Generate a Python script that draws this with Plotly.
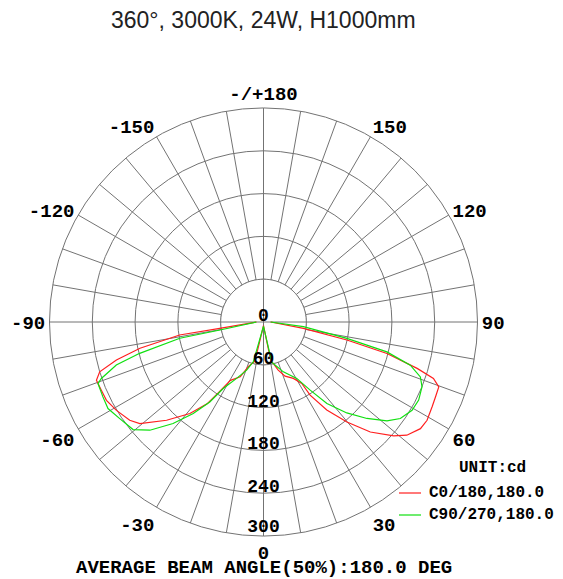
import plotly.graph_objects as go
import numpy as np

title_text = "360°, 3000K, 24W, H1000mm"
series_names = ["C0/180,180.0", "C90/270,180.0"]
series_colors = ["#ff2020", "#10e010"]
unit_text = "UNIT:cd"
footer_text = "AVERAGE BEAM ANGLE(50%):180.0 DEG"

# C0/180 plane (red): angle in degrees (0 = nadir), intensity in cd
c0_theta = [-90, -81.8, -81.2, -78, -75.5, -73.1, -70.8, -67.2, -63.5, -59, -53.7, -50.6,
            -44.6, -38.8, -34.6, -32.3, -29.5, -23, -18.8, -12.3, 0, 10.7, 13.4, 17, 21.7,
            27.9, 31.9, 32.5, 35.7, 39.85, 44.15, 48.8, 51.7, 55.8, 59, 63.3, 66.5, 69.7,
            71.65, 73.2, 75.7, 77.8, 81, 90]
c0_cd = [10, 62, 119, 177, 213, 240, 248, 246.6, 246, 240.5, 232.7, 224.4,
         193.5, 164.7, 139.4, 115, 94, 83.5, 66.3, 56, 5, 57, 60, 70.5, 81.7,
         89.5, 101.5, 121.6, 152, 182.5, 215, 242.5, 256, 266, 267.5, 264.6, 263, 262,
         251, 225, 178.6, 119.6, 56.6, 10]

# C90/270 plane (green)
c90_theta = [-90, -79.6, -79, -75.8, -73.7, -70.8, -69.6, -65, -60.9, -56.1, -50.5, -46.4,
             -41.7, -37.5, -33.9, -31.2, -25.5, -19.3, -14.4, 0, 11.7, 15, 21.7, 30.5, 34.4,
             37.9, 42.5, 47, 51.3, 54.8, 59.3, 63.3, 67.8, 70.7, 73.6, 76.4, 78.9, 83.3, 90]
c90_cd = [10, 62, 119.5, 179, 215, 240.7, 247.6, 248.4, 249.5, 242.8, 237, 220,
          190.6, 161.8, 135, 109, 87.6, 71.5, 57.6, 6, 57, 62.5, 75.2, 91.8, 115.8,
          144.7, 172.9, 198.3, 221.8, 234.7, 242.2, 243.5, 240, 233, 214.5, 178, 119.1, 56.3, 10]

radial_ticks = [0, 60, 120, 180, 240, 300]
radial_ticktext = ["0", "60", "120", "180", "240", "300"]
angular_labels = {0: "0", 30: "30", 60: "60", 90: "90", 120: "120", 150: "150",
                  180: "-/+180", 210: "-150", 240: "-120", 270: "-90", 300: "-60", 330: "-30"}

GRID = "#737373"
MONO = "Courier New, Liberation Mono, monospace"
# page body has an 8px margin: figure is sized to fill the rest of the window
W, H = 555, 571
cx, cy, R = 255.5, 314.0, 214.0
RMAX = radial_ticks[-1]

ang_vals = list(range(0, 360, 10))
ang_text = [angular_labels.get(a, "") for a in ang_vals]

fig = go.Figure()

# inner white disk (hides spokes) with ring at first tick
disk_theta = np.linspace(0, 360, 181)
fig.add_trace(go.Scatterpolar(
    r=[radial_ticks[1]] * len(disk_theta), theta=disk_theta, mode="lines",
    fill="toself", fillcolor="white", line=dict(color=GRID, width=1),
    showlegend=False, hoverinfo="skip"))
# cross lines through the hole
fig.add_trace(go.Scatterpolar(
    r=[radial_ticks[1], 0, radial_ticks[1], None, radial_ticks[1], 0, radial_ticks[1]],
    theta=[0, 0, 180, None, 90, 90, 270], mode="lines",
    line=dict(color=GRID, width=1), showlegend=False, hoverinfo="skip"))

fig.add_trace(go.Scatterpolar(
    r=c0_cd, theta=c0_theta, mode="lines", name=series_names[0],
    line=dict(color=series_colors[0], width=1.2), showlegend=False))
fig.add_trace(go.Scatterpolar(
    r=c90_cd, theta=c90_theta, mode="lines", name=series_names[1],
    line=dict(color=series_colors[1], width=1.2), showlegend=False))

# radial tick labels along the nadir axis (kept inside the radial range)
fig.add_trace(go.Scatterpolar(
    r=[min(t + 5, RMAX) for t in radial_ticks], theta=[0] * len(radial_ticks), mode="text",
    text=radial_ticktext, textposition="top center",
    textfont=dict(family=MONO, size=18, color="black", weight="bold"),
    showlegend=False, hoverinfo="skip", cliponaxis=False))

# legend block (drawn as text + swatches)
leg_x_line0, leg_x_line1, leg_x_text = 391, 413, 419
leg_y0, leg_dy = 485, 22
annotations = [
    dict(text=title_text, x=cx / W, y=1 - 12 / H, xref="paper", yref="paper",
         showarrow=False, xanchor="center", yanchor="middle",
         font=dict(family="Liberation Sans, Arial, sans-serif", size=23, color="#222")),
    dict(text=unit_text, x=484 / W, y=1 - 460 / H, xref="paper", yref="paper",
         showarrow=False, xanchor="center", yanchor="middle",
         font=dict(family=MONO, size=16, color="black", weight="bold")),
    dict(text=footer_text, x=cx / W, y=1 - 560 / H, xref="paper", yref="paper",
         showarrow=False, xanchor="center", yanchor="middle",
         font=dict(family=MONO, size=19, color="black", weight="bold")),
]
shapes = []
for i, (name, col) in enumerate(zip(series_names, series_colors)):
    yy = 1 - (leg_y0 + i * leg_dy) / H
    annotations.append(dict(text=name, x=leg_x_text / W, y=yy, xref="paper", yref="paper",
                            showarrow=False, xanchor="left", yanchor="middle",
                            font=dict(family=MONO, size=16, color="black", weight="bold")))
    shapes.append(dict(type="line", xref="paper", yref="paper",
                       x0=leg_x_line0 / W, x1=leg_x_line1 / W, y0=yy, y1=yy,
                       line=dict(color=col, width=1.2)))

fig.update_layout(
    width=W, height=H,
    margin=dict(l=0, r=0, t=0, b=0, autoexpand=False),
    paper_bgcolor="white",
    showlegend=False,
    polar=dict(
        domain=dict(x=[(cx - R) / W, (cx + R) / W], y=[(H - cy - R) / H, (H - cy + R) / H]),
        bgcolor="white",
        radialaxis=dict(range=[0, RMAX], tickvals=radial_ticks[1:], showticklabels=False,
                        ticks="", showline=False, gridcolor=GRID, gridwidth=1),
        angularaxis=dict(rotation=-90, direction="counterclockwise",
                         tickvals=ang_vals, ticktext=ang_text, ticks="",
                         showgrid=True, gridcolor=GRID, gridwidth=1,
                         showline=True, linecolor=GRID, linewidth=1,
                         tickfont=dict(family=MONO, size=19, color="black", weight="bold")),
    ),
    annotations=annotations,
    shapes=shapes,
)

fig.write_html("out.html")
